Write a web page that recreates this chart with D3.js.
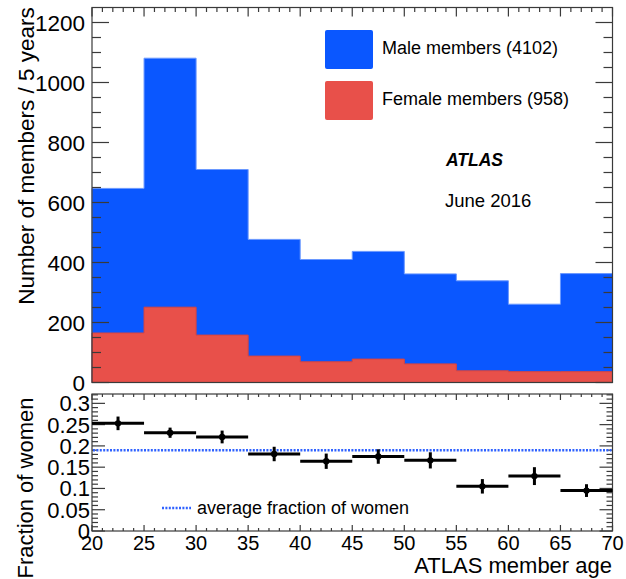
<!DOCTYPE html>
<html><head><meta charset="utf-8">
<script src="https://cdn.jsdelivr.net/npm/d3@7"></script>
<style>body{margin:0;background:#fff}svg{display:block;font-family:"Liberation Sans",Arial,sans-serif}</style>
</head><body><svg id="c" width="626" height="579"></svg>
<script>
// ---- data ----
const binEdges = [20,25,30,35,40,45,50,55,60,65,70];
const totalMembers = [647,1081,710,477,410,437,362,339,261,363];   // blue (all members)
const femaleMembers = [165,251,158,88,69,78,62,39,36,36];          // red
const fraction = [0.253,0.231,0.221,0.181,0.164,0.175,0.166,0.105,0.129,0.095];
const fractionErr = [0.016,0.012,0.015,0.017,0.018,0.017,0.019,0.017,0.021,0.015];
const averageFraction = 0.19;
const topYTicks = [0,200,400,600,800,1000,1200];
const bottomYTicks = [0,0.05,0.1,0.15,0.2,0.25,0.3];
const bottomYTickLabels = ["0","0.05","0.1","0.15","0.2","0.25","0.3"];
const xTicks = [20,25,30,35,40,45,50,55,60,65,70];
const legendLabels = ["Male members (4102)","Female members (958)"];

// ---- layout ----
const svg = d3.select("#c");
const X0=92, X1=612.5, T1=7.5, B1=382.5, T2=394, B2=531;
const x = d3.scaleLinear().domain([20,70]).range([X0,X1]);
const y1 = d3.scaleLinear().domain([0,1250]).range([B1,T1]);
const y2 = d3.scaleLinear().domain([0,0.322]).range([B2,T2]);
const BLUE="#0a57ff", RED="#e8504a", FRAME="#3a3a3a";

function stepData(vals){ const d=vals.map((v,i)=>({x:binEdges[i],v})); d.push({x:binEdges[binEdges.length-1],v:vals[vals.length-1]}); return d; }
const area = d3.area().curve(d3.curveStepAfter).x(d=>x(d.x)).y0(y1(0)).y1(d=>y1(d.v));
svg.append("path").datum(stepData(totalMembers)).attr("d",area).attr("fill",BLUE).attr("stroke","#6a98ff").attr("stroke-width",1);
svg.append("path").datum(stepData(femaleMembers)).attr("d",area).attr("fill",RED).attr("stroke","#d9443e").attr("stroke-width",1);

// ---- ticks helper ----
function ticksLine(g, pts){ g.selectAll(null).data(pts).join("line").attr("x1",d=>d[0]).attr("y1",d=>d[1]).attr("x2",d=>d[2]).attr("y2",d=>d[3]).attr("stroke",FRAME).attr("stroke-width",1.2); }
const gt = svg.append("g");
const topMinor = d3.range(0,1250,50);
ticksLine(gt, topMinor.map(v=>{const L=v%200===0?17:9; return [X0,y1(v),X0+L,y1(v)];}));
ticksLine(gt, topMinor.map(v=>{const L=v%200===0?17:9; return [X1,y1(v),X1-L,y1(v)];}));
const xMinor = d3.range(20,71,1);
ticksLine(gt, xMinor.map(v=>{const L=v%5===0?9:4.5; return [x(v),T1,x(v),T1+L];}));
const yMinor2 = d3.range(0,0.321,0.01);
ticksLine(gt, yMinor2.map((v,i)=>{const L=i%5===0?13:6; return [X0,y2(v),X0+L,y2(v)];}));
ticksLine(gt, yMinor2.map((v,i)=>{const L=i%5===0?13:6; return [X1,y2(v),X1-L,y2(v)];}));
ticksLine(gt, xMinor.map(v=>{const L=v%5===0?6:3; return [x(v),B2,x(v),B2-L];}));
ticksLine(gt, xMinor.map(v=>{const L=v%5===0?6:3; return [x(v),T2,x(v),T2+L];}));

// frames
svg.append("rect").attr("x",X0).attr("y",T1).attr("width",X1-X0).attr("height",B1-T1).attr("fill","none").attr("stroke",FRAME).attr("stroke-width",1.2);
svg.append("rect").attr("x",X0).attr("y",T2).attr("width",X1-X0).attr("height",B2-T2).attr("fill","none").attr("stroke",FRAME).attr("stroke-width",1.2);

// tick labels
svg.append("g").selectAll("text").data(topYTicks).join("text")
  .attr("x",85).attr("y",d=>y1(d)).attr("dy","0.36em").attr("text-anchor","end").attr("font-size",22.5).text(d=>d);
svg.append("g").selectAll("text").data(bottomYTicks).join("text")
  .attr("x",90).attr("y",d=>y2(d)).attr("dy","0.36em").attr("text-anchor","end").attr("font-size",22).text((d,i)=>bottomYTickLabels[i]);
svg.append("g").selectAll("text").data(xTicks).join("text")
  .attr("x",d=>x(d)).attr("y",550).attr("text-anchor","middle").attr("font-size",20).text(d=>d);

// axis titles
svg.append("text").attr("transform","translate(34,156) rotate(-90)").attr("text-anchor","middle").attr("font-size",22.5).text("Number of members / 5 years");
svg.append("text").attr("transform","translate(33,488) rotate(-90)").attr("text-anchor","middle").attr("font-size",22).text("Fraction of women");
svg.append("text").attr("x",612).attr("y",573).attr("text-anchor","end").attr("font-size",22).text("ATLAS member age");

// legend top
const legColors=[BLUE,RED];
legendLabels.forEach((t,i)=>{
  svg.append("rect").attr("x",325).attr("y",30+i*51).attr("width",48).attr("height",39).attr("rx",2).attr("fill",legColors[i]);
  svg.append("text").attr("x",382).attr("y",54+i*51).attr("font-size",18).text(t);
});
svg.append("text").attr("x",446).attr("y",166).attr("font-size",17.5).attr("font-weight","bold").attr("font-style","italic").text("ATLAS");
svg.append("text").attr("x",445).attr("y",207).attr("font-size",18.5).text("June 2016");

// average line
svg.append("line").attr("x1",X0+1).attr("x2",X1-1).attr("y1",y2(averageFraction)).attr("y2",y2(averageFraction))
  .attr("stroke","#2f62ff").attr("stroke-width",2.5).attr("stroke-dasharray","2,1.4");
svg.append("line").attr("x1",162).attr("x2",191).attr("y1",508).attr("y2",508)
  .attr("stroke","#2f62ff").attr("stroke-width",2.5).attr("stroke-dasharray","2,1.4");
svg.append("text").attr("x",197).attr("y",513.5).attr("font-size",18).text("average fraction of women");

// fraction points
const pts = fraction.map((f,i)=>({lo:binEdges[i],hi:binEdges[i+1],f,e:fractionErr[i]}));
const gp = svg.append("g").attr("stroke","#000").attr("stroke-width",3);
gp.selectAll(".h").data(pts).join("line").attr("x1",d=>x(d.lo)).attr("x2",d=>x(d.hi)).attr("y1",d=>y2(d.f)).attr("y2",d=>y2(d.f));
gp.selectAll(".v").data(pts).join("line").attr("x1",d=>x((d.lo+d.hi)/2)).attr("x2",d=>x((d.lo+d.hi)/2)).attr("y1",d=>y2(d.f-d.e)).attr("y2",d=>y2(d.f+d.e));
svg.append("g").selectAll("circle").data(pts).join("circle").attr("cx",d=>x((d.lo+d.hi)/2)).attr("cy",d=>y2(d.f)).attr("r",3.2).attr("fill","#000");
</script></body></html>
